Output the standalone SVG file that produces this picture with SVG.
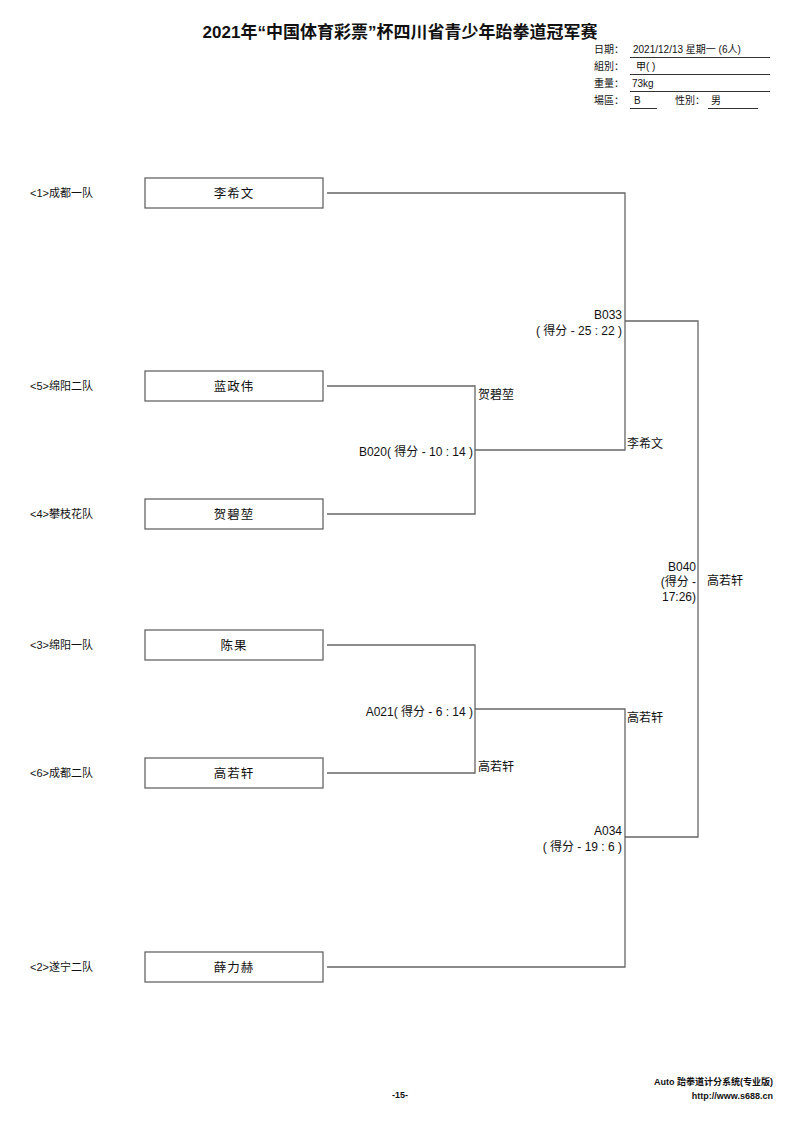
<svg xmlns="http://www.w3.org/2000/svg" width="800" height="1130" viewBox="0 0 800 1130">
<style>
text{font-family:"Liberation Sans","Noto Sans CJK SC",sans-serif;fill:#111}
.t{font-size:17px;font-weight:bold}
.h{font-size:10px}
.team{font-size:11px}
.nm{font-size:12.5px;letter-spacing:1px}
.lb{font-size:12px}
.box{fill:#fff;stroke:#666;stroke-width:1.3}
.ln{fill:none;stroke:#666;stroke-width:1.3}
.ul{stroke:#333;stroke-width:1}
.ft{font-size:9px;font-weight:bold}
</style>
<rect width="800" height="1130" fill="#fff"/>
<g id="header">
<text class="t" x="400" y="38" text-anchor="middle">2021年“中国体育彩票”杯四川省青少年跆拳道冠军赛</text>
<text class="h" x="594" y="53">日期：</text>
<text class="h" x="633" y="53">2021/12/13 星期一  (6人)</text>
<line class="ul" x1="630" y1="57.5" x2="770" y2="57.5"/>
<text class="h" x="594" y="70">組別：</text>
<text class="h" x="636" y="70">甲( )</text>
<line class="ul" x1="630" y1="74.5" x2="770" y2="74.5"/>
<text class="h" x="594" y="87">重量：</text>
<text class="h" x="632" y="87">73kg</text>
<line class="ul" x1="630" y1="91.5" x2="770" y2="91.5"/>
<text class="h" x="594" y="104">場區：</text>
<text class="h" x="634" y="104">B</text>
<line class="ul" x1="630" y1="108.5" x2="657" y2="108.5"/>
<text class="h" x="675" y="104">性別：</text>
<text class="h" x="711" y="104">男</text>
<line class="ul" x1="708" y1="108.5" x2="758" y2="108.5"/>
</g>
<g id="connectors">
<path class="ln" d="M327,193 H625 V450 H475"/>
<path class="ln" d="M327,386 H475 V514 H327"/>
<path class="ln" d="M625,321 H698 V837 H625"/>
<path class="ln" d="M327,645 H475 V773 H327"/>
<path class="ln" d="M475,709 H625 V967 H327"/>
</g>
<g id="p1"><text class="team" x="30" y="197">&lt;1&gt;成都一队</text><rect class="box" x="145" y="178" width="178" height="30"/><text class="nm" x="234" y="197.5" text-anchor="middle">李希文</text></g>
<g id="p5"><text class="team" x="30" y="390">&lt;5&gt;绵阳二队</text><rect class="box" x="145" y="371" width="178" height="30"/><text class="nm" x="234" y="390.5" text-anchor="middle">蓝政伟</text></g>
<g id="p4"><text class="team" x="30" y="518">&lt;4&gt;攀枝花队</text><rect class="box" x="145" y="499" width="178" height="30"/><text class="nm" x="234" y="518.5" text-anchor="middle">贺碧堃</text></g>
<g id="p3"><text class="team" x="30" y="649">&lt;3&gt;绵阳一队</text><rect class="box" x="145" y="630" width="178" height="30"/><text class="nm" x="234" y="649.5" text-anchor="middle">陈果</text></g>
<g id="p6"><text class="team" x="30" y="777">&lt;6&gt;成都二队</text><rect class="box" x="145" y="758" width="178" height="30"/><text class="nm" x="234" y="777.5" text-anchor="middle">高若轩</text></g>
<g id="p2"><text class="team" x="30" y="971">&lt;2&gt;遂宁二队</text><rect class="box" x="145" y="952" width="178" height="30"/><text class="nm" x="234" y="971.5" text-anchor="middle">薛力赫</text></g>
<g id="m-B020">
<text class="lb" x="478" y="399">贺碧堃</text>
<text class="lb" x="473" y="456" text-anchor="end">B020( 得分 - 10 : 14 )</text>
</g>
<g id="m-B033">
<text class="lb" x="622" y="319" text-anchor="end">B033</text>
<text class="lb" x="622" y="335" text-anchor="end">( 得分 - 25 : 22 )</text>
<text class="lb" x="627" y="448">李希文</text>
</g>
<g id="m-A021">
<text class="lb" x="473" y="716" text-anchor="end">A021( 得分 - 6 : 14 )</text>
<text class="lb" x="478" y="771">高若轩</text>
</g>
<g id="m-A034">
<text class="lb" x="627" y="722">高若轩</text>
<text class="lb" x="622" y="835" text-anchor="end">A034</text>
<text class="lb" x="622" y="851" text-anchor="end">( 得分 - 19 : 6 )</text>
</g>
<g id="m-B040">
<text class="lb" x="696" y="571" text-anchor="end">B040</text>
<text class="lb" x="696" y="586" text-anchor="end">(得分 -</text>
<text class="lb" x="696" y="601" text-anchor="end">17:26)</text>
<text class="lb" x="707" y="585">高若轩</text>
</g>
<g id="footer">
<text class="ft" x="773" y="1085" text-anchor="end">Auto 跆拳道计分系统(专业版)</text>
<text class="ft" x="773" y="1099" text-anchor="end">http://www.s688.cn</text>
<text class="ft" x="400" y="1098" text-anchor="middle">-15-</text>
</g>
</svg>
